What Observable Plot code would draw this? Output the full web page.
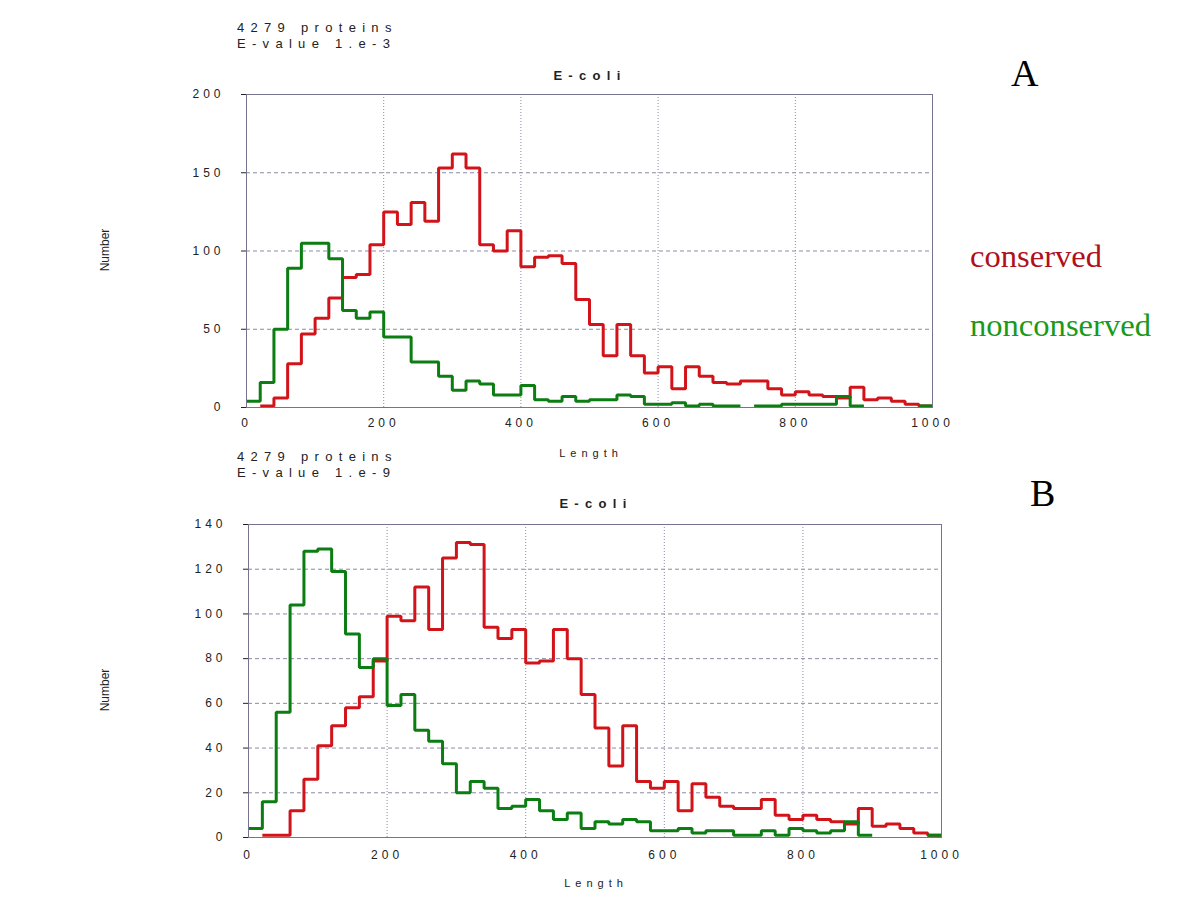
<!DOCTYPE html>
<html>
<head>
<meta charset="utf-8">
<script src="https://cdn.jsdelivr.net/npm/d3@7"></script>
<script src="https://cdn.jsdelivr.net/npm/@observablehq/plot@0.6"></script>
<style>
  html, body { margin: 0; padding: 0; background: #fff; }
  #page { position: relative; width: 1200px; height: 900px; background: #fff; overflow: hidden; font-family: "Liberation Sans", Arial, sans-serif; color: #222; }
  .abs { position: absolute; white-space: nowrap; }
  .head { font-size: 13px; letter-spacing: 6.3px; line-height: 16px; color: #222; }
  .title { font-size: 13px; font-weight: bold; letter-spacing: 6.3px; transform: translate(-50%, -50%); }
  .xlab { font-size: 11px; letter-spacing: 5px; transform: translate(-50%, -50%); }
  .ylab { font-size: 12px; transform: translate(-50%, -50%) rotate(-90deg); }
  .serif { font-family: "Liberation Serif", "Times New Roman", serif; line-height: 1; }
  .panel { position: absolute; left: 0; }
</style>
</head>
<body>
<div id="page">
  <div class="abs head" style="left:237px; top:20px;">4279 proteins<br>E-value 1.e-3</div>
  <div class="abs title" style="left:590px; top:75px;">E-coli</div>
  <div class="abs ylab" style="left:105px; top:250px;">Number</div>
  <div class="abs xlab" style="left:591px; top:453px;">Length</div>
  <div class="abs serif" style="left:1011px; top:54px; font-size:38px; color:#000;">A</div>
  <div class="abs serif" style="left:970px; top:240px; font-size:32.6px; color:#b0101c;">conserved</div>
  <div class="abs serif" style="left:970px; top:309px; font-size:32.6px; color:#1a9a1a;">nonconserved</div>

  <div class="abs head" style="left:237px; top:449px;">4279 proteins<br>E-value 1.e-9</div>
  <div class="abs title" style="left:596px; top:503px;">E-coli</div>
  <div class="abs ylab" style="left:105px; top:690px;">Number</div>
  <div class="abs xlab" style="left:596px; top:883px;">Length</div>
  <div class="abs serif" style="left:1030px; top:474px; font-size:38px; color:#000;">B</div>

  <div id="panelA" class="panel" style="top:0px;"></div>
  <div id="panelB" class="panel" style="top:460px;"></div>
</div>
<script>
// Bin starts (protein length, bins of 20)
const binStart = [0,20,40,60,80,100,120,140,160,180,200,220,240,260,280,300,320,340,360,380,
  400,420,440,460,480,500,520,540,560,580,600,620,640,660,680,700,720,740,760,780,
  800,820,840,860,880,900,920,940,960,980];
const xMax = 1000;

// Panel A: E-value 1.e-3
const conservedA = [null,1,6,28,47,57,70,83,85,104,125,117,131,119,153,162,153,104,100,113,
  90,96,97,92,69,53,33,53,33,22,26,12,26,20,16,15,17,17,12,8,
  10,8,7,6,13,5,6,4,2,1];
const nonconservedA = [4,16,50,89,105,105,95,62,57,61,45,45,29,29,20,11,17,15,8,8,
  14,5,4,7,4,5,5,8,7,2,2,3,1,2,1,1,null,1,1,2,
  2,2,2,7,1,null,null,null,null,1];

// Panel B: E-value 1.e-9
const conservedB = [null,1,1,12,26,41,50,58,63,79,99,97,112,93,125,132,131,94,89,93,
  78,79,93,80,64,49,32,50,25,22,25,12,24,18,14,13,13,17,10,8,
  10,8,7,6,13,5,6,4,2,1];
const nonconservedB = [4,16,56,104,128,129,119,91,76,80,59,64,48,43,33,20,25,22,13,14,
  17,12,8,11,4,7,6,8,7,3,3,4,2,3,3,1,1,3,1,4,
  3,2,3,7,1,null,null,null,null,1];

const xTicks = [0,200,400,600,800,1000];
const xGrid = [200,400,600,800];
const yTicksA = [0,50,100,150,200];
const yGridA = [50,100,150];
const yTicksB = [0,20,40,60,80,100,120,140];
const yGridB = [20,40,60,80,100,120];

const RED = "#d2141a";
const GREEN = "#0b7d12";
const FRAME = "#74748f";
const GRID = "#8a8aa6";

// Turn per-bin counts into step points (breaking where a bin is empty)
function steps(values) {
  const out = [];
  let run = 0;
  values.forEach((v, i) => {
    if (v == null) return;
    out.push({x: binStart[i], y: v, run});
    const next = values[i + 1];
    if (next == null) {
      out.push({x: i + 1 < binStart.length ? binStart[i + 1] : xMax, y: v, run});
      run++;
    }
  });
  return out;
}

function panel({height, top, bottom, left, right, yMax, yTicks, yGrid, red, green, xPad}) {
  return Plot.plot({
    width: 1200,
    height,
    marginTop: top,
    marginBottom: bottom,
    marginLeft: left,
    marginRight: right,
    style: {fontFamily: "'Liberation Sans', Arial, sans-serif", fontSize: "12px", letterSpacing: "4px", color: "#222", background: "transparent", overflow: "visible"},
    x: {domain: [0, xMax], ticks: xTicks, tickSize: 0, tickPadding: xPad, tickFormat: d => String(d), label: null},
    y: {domain: [0, yMax], ticks: yTicks, tickSize: 5, tickPadding: 17, tickFormat: d => String(d), label: null},
    marks: [
      Plot.ruleY(yGrid, {x1: 0, x2: xMax, stroke: GRID, strokeWidth: 1, strokeDasharray: "4,3"}),
      Plot.ruleX(xGrid, {y1: 0, y2: yMax, stroke: GRID, strokeWidth: 1, strokeDasharray: "1,2"}),
      Plot.line(steps(red), {x: "x", y: "y", z: "run", curve: "step-after", stroke: RED, strokeWidth: 3, strokeLinejoin: "miter", strokeLinecap: "butt"}),
      Plot.line(steps(green), {x: "x", y: "y", z: "run", curve: "step-after", stroke: GREEN, strokeWidth: 3, strokeLinejoin: "miter", strokeLinecap: "butt"}),
      Plot.frame({stroke: FRAME, strokeWidth: 1})
    ]
  });
}

document.getElementById("panelA").appendChild(panel({
  height: 460, top: 94, bottom: 53, left: 246, right: 268,
  yMax: 200, yTicks: yTicksA, yGrid: yGridA,
  red: conservedA, green: nonconservedA, xPad: 11
}));

document.getElementById("panelB").appendChild(panel({
  height: 440, top: 64, bottom: 63, left: 248, right: 259,
  yMax: 140, yTicks: yTicksB, yGrid: yGridB,
  red: conservedB, green: nonconservedB, xPad: 13
}));
</script>
</body>
</html>
